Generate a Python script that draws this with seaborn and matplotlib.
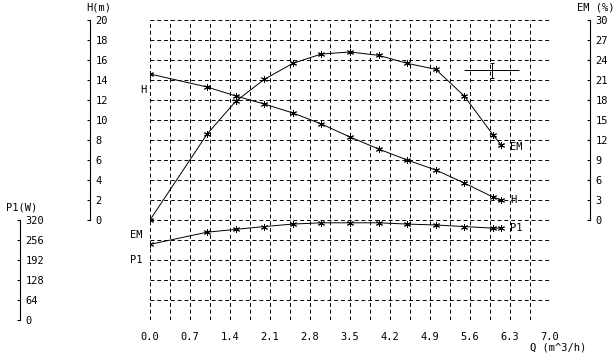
import numpy as np
import seaborn as sns
import matplotlib
matplotlib.use("Agg")
import matplotlib.pyplot as plt

# pump curve data
flow_q = [0.0, 1.0, 1.5, 2.0, 2.5, 3.0, 3.5, 4.0, 4.5, 5.0, 5.5, 6.0, 6.15]
head_h = [14.6, 13.3, 12.4, 11.6, 10.7, 9.6, 8.3, 7.1, 6.0, 5.0, 3.7, 2.3, 2.0]
eff_em = [0.0, 12.9, 17.8, 21.1, 23.5, 24.9, 25.2, 24.7, 23.5, 22.6, 18.6, 12.8, 11.2]
power_p1 = [242, 281, 290, 299, 307, 311, 311, 311, 307, 304, 299, 294, 294]

q_ticks = np.arange(0, 7.01, 0.35)
q_labels = [f"{v:.1f}" if i % 2 == 0 else "" for i, v in enumerate(q_ticks)]
h_ticks = np.arange(0, 21, 2)
em_ticks = np.arange(0, 31, 3)
p1_ticks = np.arange(0, 321, 64)

# operating point symbol (top right)
op_q, op_h, op_span, op_err = 5.98, 15.0, (5.5, 6.45), 0.75

sns.set_style("white")
plt.rcParams["font.family"] = ["DejaVu Sans Mono", "DejaVu Sans"]
plt.rcParams["font.size"] = 7.5
plt.rcParams["text.color"] = "black"
plt.rcParams["xtick.color"] = "black"
plt.rcParams["ytick.color"] = "black"

W, H = 616, 357
fig = plt.figure(figsize=(W / 100, H / 100), dpi=100)
rect = [150 / W, (H - 320) / H, 400 / W, 300 / H]
ax_h = fig.add_axes(rect)
ax_em = ax_h.twinx()
ax_p = ax_h.twinx()

dash = (0, (4, 3))
lw = 0.7
mk = dict(color="black", marker=(6, 2, 0), markersize=5,
          markeredgecolor="black", markeredgewidth=0.7, linewidth=lw)

# grid
ax_h.set_xlim(0, 7)
ax_h.set_ylim(-10, 20)
ax_h.set_xticks(q_ticks)
ax_h.set_xticklabels(q_labels)
ax_h.set_yticks(h_ticks)
ax_h.set_yticks(np.arange(-10, 20.1, 2), minor=True)
ax_h.yaxis.remove_overlapping_locs = False
ax_h.grid(axis="x", which="major", color="black", linestyle=dash, linewidth=lw)
ax_h.grid(axis="y", which="minor", color="black", linestyle=dash, linewidth=lw)
ax_h.grid(axis="y", which="major", visible=False)
ax_h.tick_params(axis="x", length=0, pad=8.5, labelsize=7.5, labelcolor="black")
ax_h.tick_params(axis="y", which="minor", length=0)

sns.lineplot(x=flow_q, y=head_h, ax=ax_h, **mk)
sns.lineplot(x=flow_q, y=eff_em, ax=ax_em, **mk)
sns.lineplot(x=flow_q, y=power_p1, ax=ax_p, **mk)

ax_h.hlines(op_h, op_span[0], op_span[1], color="black", linewidth=lw)
ax_h.errorbar([op_q], [op_h], yerr=op_err, color="black", capsize=1.6,
              elinewidth=lw, capthick=lw, fmt="none")

ax_em.set_ylim(-15, 30)
ax_p.set_ylim(0, 960)

for ax, pos, ticks, top in [(ax_h, -0.15, h_ticks, 20), (ax_em, 1.1, em_ticks, 30),
                            (ax_p, -0.325, p1_ticks, 320)]:
    for s in ["top", "bottom", "left"]:
        ax.spines[s].set_visible(False)
    ax.spines["right"].set_visible(True)
    ax.spines["right"].set_position(("axes", pos))
    ax.spines["right"].set_bounds(0, top)
    ax.spines["right"].set_linewidth(0.8)
    ax.spines["right"].set_color("black")
    ax.yaxis.tick_right()
    ax.set_yticks(ticks)
    ax.tick_params(axis="y", which="major", direction="in", length=2.2, width=0.8,
                   pad=4, labelsize=7.5, right=True, labelright=True,
                   left=False, labelleft=False, color="black", labelcolor="black")
    ax.set_xlabel("")
    ax.set_ylabel("")
for ax in (ax_em, ax_p):
    ax.tick_params(axis="x", bottom=False, labelbottom=False)

# curve labels
fs = 7.5
ax_h.annotate("H", (flow_q[0], head_h[0]), xytext=(-10, -16), textcoords="offset pixels",
              ha="left", va="center", fontsize=fs)
ax_em.annotate("EM", (flow_q[0], eff_em[0]), xytext=(-20, -15), textcoords="offset pixels",
               ha="left", va="center", fontsize=fs)
ax_p.annotate("P1", (flow_q[0], power_p1[0]), xytext=(-20, -16), textcoords="offset pixels",
              ha="left", va="center", fontsize=fs)
ax_em.annotate("EM", (flow_q[-1], eff_em[-1]), xytext=(9, -2), textcoords="offset pixels",
               ha="left", va="center", fontsize=fs)
ax_h.annotate("H", (flow_q[-1], head_h[-1]), xytext=(9, 0), textcoords="offset pixels",
              ha="left", va="center", fontsize=fs)
ax_p.annotate("P1", (flow_q[-1], power_p1[-1]), xytext=(9, 0), textcoords="offset pixels",
              ha="left", va="center", fontsize=fs)

# axis titles
fig.text(99 / W, 1 - 7.5 / H, "H(m)", ha="center", va="center", fontsize=fs)
fig.text(596 / W, 1 - 7.5 / H, "EM (%)", ha="center", va="center", fontsize=fs)
fig.text(22 / W, 1 - 207 / H, "P1(W)", ha="center", va="center", fontsize=fs)
fig.text(530 / W, 1 - 348 / H, "Q (m^3/h)", ha="left", va="center", fontsize=fs)

fig.savefig("out.png", dpi=100)
